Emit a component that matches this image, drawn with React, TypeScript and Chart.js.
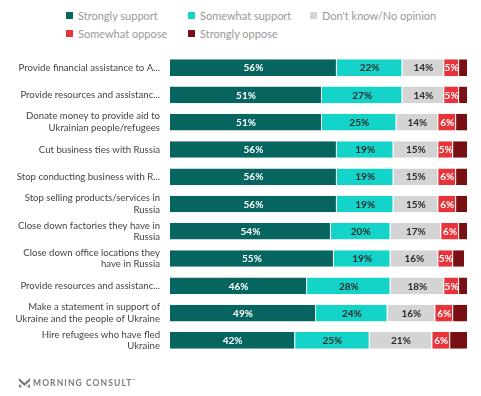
import React, { useEffect, useRef } from "react";
import { Chart, registerables } from "chart.js";

Chart.register(...registerables);

const categories: (string | string[])[] = [
  "Provide financial assistance to A...",
  "Provide resources and assistanc...",
  ["Donate money to provide aid to", "Ukrainian people/refugees"],
  "Cut business ties with Russia",
  "Stop conducting business with R...",
  ["Stop selling products/services in", "Russia"],
  ["Close down factories they have in", "Russia"],
  ["Close down office locations they", "have in Russia"],
  "Provide resources and assistanc...",
  ["Make a statement in support of", "Ukraine and the people of Ukraine"],
  ["Hire refugees who have fled", "Ukraine"],
];

const seriesNames = [
  "Strongly support",
  "Somewhat support",
  "Don't know/No opinion",
  "Somewhat oppose",
  "Strongly oppose",
];

const stronglySupport = [56, 51, 51, 56, 56, 56, 54, 55, 46, 49, 42];
const somewhatSupport = [22, 27, 25, 19, 19, 19, 20, 19, 28, 24, 25];
const dontKnow = [14, 14, 14, 15, 15, 15, 17, 16, 18, 16, 21];
const somewhatOppose = [5, 5, 6, 5, 6, 6, 6, 5, 5, 6, 6];
const stronglyOppose = [3, 3, 4, 5, 4, 4, 3, 4, 3, 5, 6];

const colors = ["#07655f", "#14d3c9", "#d4d4d4", "#e8333a", "#780f12"];
const labelColors = ["#ffffff", "#2b2b2b", "#2b2b2b", "#ffffff", null];

const FONT = "Lato, 'Open Sans', Arial, sans-serif";

const valueLabels = {
  id: "valueLabels",
  afterDatasetsDraw(chart: any) {
    const ctx = chart.ctx;
    ctx.save();
    ctx.font = `bold 10px ${FONT}`;
    ctx.textAlign = "center";
    ctx.textBaseline = "middle";
    chart.data.datasets.forEach((ds: any, di: number) => {
      const col = labelColors[di];
      if (!col) return;
      const meta = chart.getDatasetMeta(di);
      meta.data.forEach((bar: any, i: number) => {
        const p = bar.getProps(["x", "y", "base"], true);
        ctx.fillStyle = col;
        ctx.fillText(`${ds.data[i]}%`, (p.x + p.base) / 2, p.y + 0.5);
      });
    });
    ctx.restore();
  },
};

export default function App() {
  const ref = useRef<HTMLCanvasElement>(null);
  useEffect(() => {
    if (!ref.current) return;
    const seriesData = [stronglySupport, somewhatSupport, dontKnow, somewhatOppose, stronglyOppose];
    const chart = new Chart(ref.current, {
      type: "bar",
      data: {
        labels: categories,
        datasets: seriesData.map((d, i) => ({
          label: seriesNames[i],
          data: d,
          backgroundColor: colors[i],
          borderColor: "#ffffff",
          borderWidth: { top: 0, right: 1, bottom: 0, left: 0 },
          borderSkipped: false,
          barPercentage: 0.61,
          categoryPercentage: 1,
        })),
      },
      options: {
        indexAxis: "y",
        animation: false,
        responsive: false,
        maintainAspectRatio: false,
        layout: { padding: { top: 54, bottom: 42, right: 13, left: 0 } },
        plugins: { legend: { display: false }, tooltip: { enabled: false } },
        scales: {
          x: {
            stacked: true,
            min: 0,
            max: 100,
            display: false,
          },
          y: {
            stacked: true,
            grid: { display: false, drawTicks: false },
            border: { display: false },
            ticks: {
              color: "#444444",
              padding: 10,
              font: { family: FONT, size: 9.6, lineHeight: 1.22 },
            },
            afterFit(scale: any) {
              scale.width = 170;
            },
          },
        },
      },
      plugins: [valueLabels],
    } as any);
    return () => chart.destroy();
  }, []);

  const legendPos = [
    [66, 15],
    [188, 15],
    [310, 15],
    [66, 33],
    [188, 33],
  ];

  return (
    <div style={{ position: "absolute", left: 0, top: 0, width: 481, height: 396, background: "#fff", fontFamily: FONT }}>
      {seriesNames.map((n, i) => (
        <div
          key={n}
          style={{
            position: "absolute",
            left: legendPos[i][0],
            top: legendPos[i][1] - 7,
            height: 14,
            display: "flex",
            alignItems: "center",
            whiteSpace: "nowrap",
          }}
        >
          <span style={{ width: 7, height: 7, background: colors[i], display: "inline-block", marginRight: 5 }} />
          <span style={{ fontSize: 11, color: "#999999" }}>{n}</span>
        </div>
      ))}
      <canvas ref={ref} width={481} height={396} style={{ position: "absolute", left: 0, top: 0, width: 481, height: 396 }} />
      <div
        style={{
          position: "absolute",
          left: 19,
          top: 377,
          height: 12,
          display: "flex",
          alignItems: "center",
          color: "#7a7a7a",
        }}
      >
        <svg width="11" height="10" viewBox="0 0 11 10" style={{ marginRight: 3 }}>
          <path d="M0 0 L5.5 5 L11 0 L11 3 L5.5 8 L0 3 Z" fill="#7a7a7a" />
          <path d="M0 6 L3 8.5 L0 10 Z M11 6 L8 8.5 L11 10 Z" fill="#7a7a7a" />
        </svg>
        <span style={{ fontSize: 8.5, fontWeight: 700, letterSpacing: 1.1 }}>MORNING CONSULT</span>
        <span style={{ fontSize: 4, alignSelf: "flex-start", marginTop: 1 }}>™</span>
      </div>
    </div>
  );
}
